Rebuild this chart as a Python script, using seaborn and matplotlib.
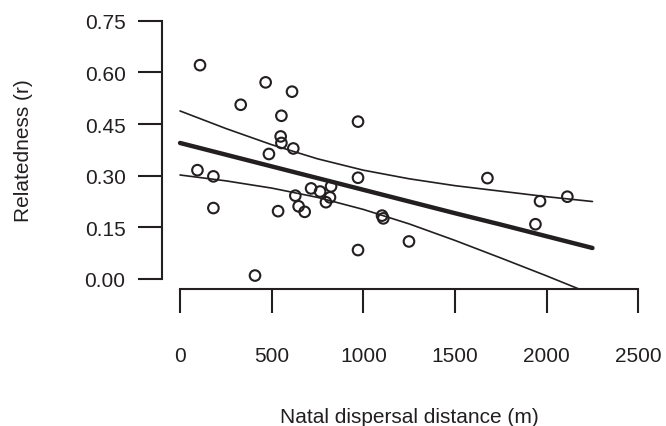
import numpy as np
import pandas as pd
import matplotlib
matplotlib.use('Agg')
import matplotlib.pyplot as plt
import seaborn as sns

# Natal dispersal distance (m) and relatedness (r)
distance = [109, 467, 331, 95, 182, 182, 485, 409, 611, 553, 549, 553, 618,
            535, 629, 647, 680, 715, 764, 824, 818, 796, 971, 971, 971,
            1102, 1109, 1249, 1677, 1964, 2113, 1939]
relatedness = [0.621, 0.571, 0.506, 0.316, 0.298, 0.206, 0.363, 0.010, 0.544,
               0.474, 0.414, 0.395, 0.379, 0.197, 0.242, 0.211, 0.195, 0.263,
               0.254, 0.269, 0.237, 0.223, 0.457, 0.294, 0.084, 0.184, 0.176,
               0.109, 0.293, 0.226, 0.239, 0.159]

# fitted line and 95% confidence limits
fit_x = [0, 250, 500, 750, 1000, 1250, 1500, 1750, 2000, 2250]
fit_y = [0.395, 0.361, 0.327, 0.293, 0.259, 0.225, 0.191, 0.158, 0.124, 0.090]
ci_hi = [0.488, 0.437, 0.390, 0.349, 0.316, 0.291, 0.271, 0.255, 0.239, 0.225]
ci_lo = [0.302, 0.285, 0.264, 0.237, 0.202, 0.160, 0.112, 0.061, 0.009, -0.045]

x_ticks = [0, 500, 1000, 1500, 2000, 2500]
y_ticks = [0.00, 0.15, 0.30, 0.45, 0.60, 0.75]

df = pd.DataFrame({'distance': distance, 'relatedness': relatedness})
fit = pd.DataFrame({'x': fit_x, 'fit': fit_y, 'lo': ci_lo, 'hi': ci_hi})

sns.set_style('ticks')
plt.rcParams['font.family'] = ['Liberation Sans', 'DejaVu Sans']
ink = '#231f20'

fig = plt.figure(figsize=(6.66, 4.27), dpi=100)
ax = fig.add_axes([0.2428, 0.3201, 0.7431, 0.6532])

sns.lineplot(data=fit, x='x', y='hi', color=ink, lw=1.2, ax=ax)
sns.lineplot(data=fit, x='x', y='lo', color=ink, lw=1.2, ax=ax)
sns.lineplot(data=fit, x='x', y='fit', color=ink, lw=3.2, ax=ax)
sns.scatterplot(data=df, x='distance', y='relatedness', s=58, marker='o',
                facecolor='none', edgecolor=ink, linewidth=1.5, ax=ax, zorder=3)

ax.set_xlim(-100, 2600)
ax.set_ylim(-0.03, 0.78)
ax.set_xticks(x_ticks)
ax.set_yticks(y_ticks)
ax.set_xticklabels([str(v) for v in x_ticks])
ax.set_yticklabels([f'{v:.2f}' for v in y_ticks])

for side in ['top', 'right']:
    ax.spines[side].set_visible(False)
ax.spines['left'].set_bounds(0, 0.75)
ax.spines['bottom'].set_bounds(0, 2500)
for side in ['left', 'bottom']:
    ax.spines[side].set_linewidth(1.5)
    ax.spines[side].set_color(ink)

ax.tick_params(axis='both', direction='out', length=17, width=1.5,
               color=ink, labelsize=15, labelcolor=ink)
ax.tick_params(axis='x', pad=24)
ax.tick_params(axis='y', pad=9)

ax.set_xlabel('Natal dispersal distance (m)', fontsize=15, color=ink, labelpad=30)
ax.set_ylabel('Relatedness (r)', fontsize=15, color=ink, labelpad=37)

fig.savefig('out.png', dpi=100)
